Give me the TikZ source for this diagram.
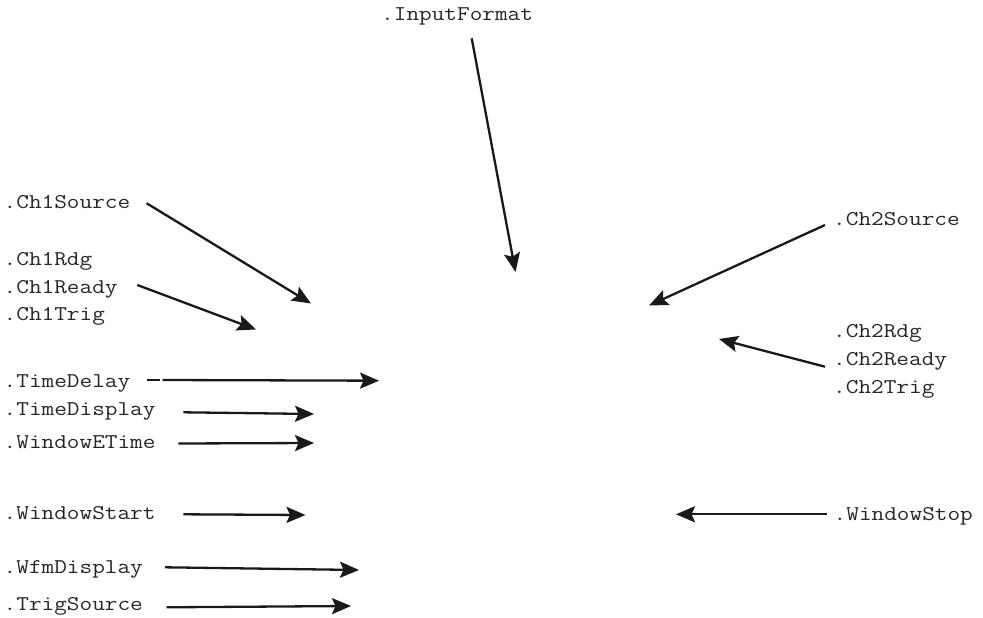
\documentclass[tikz,border=0pt]{standalone}
\usepackage{graphicx}
\usetikzlibrary{arrows.meta}
\newcommand{\lbltext}[1]{\scalebox{1.17}[1]{#1}}
\tikzset{
  lbl/.style={anchor=base west,inner sep=0pt,font=\ttfamily\fontsize{21}{25}\selectfont,text=black!85},
  arr/.style={line width=2.3pt,draw=black!90,-{Stealth[length=19pt,width=16pt,inset=3.5pt]}}
}
\begin{document}
\begin{tikzpicture}[x=1pt,y=-1pt]
\useasboundingbox (0,0) rectangle (983,618);
% labels
\node[lbl] (inputformat) at (381,20.5) {\lbltext{.InputFormat}};
\node[lbl] (ch1source) at (3.5,208) {\lbltext{.Ch1Source}};
\node[lbl] (ch1rdg) at (3.5,265) {\lbltext{.Ch1Rdg}};
\node[lbl] (ch1ready) at (3.5,293) {\lbltext{.Ch1Ready}};
\node[lbl] (ch1trig) at (3.5,320) {\lbltext{.Ch1Trig}};
\node[lbl] (timedelay) at (3.5,387) {\lbltext{.TimeDelay}};
\node[lbl] (timedisplay) at (3.5,415) {\lbltext{.TimeDisplay}};
\node[lbl] (windowetime) at (3.5,448) {\lbltext{.WindowETime}};
\node[lbl] (windowstart) at (3.5,519) {\lbltext{.WindowStart}};
\node[lbl] (wfmdisplay) at (3.5,573) {\lbltext{.WfmDisplay}};
\node[lbl] (trigsource) at (3.5,610) {\lbltext{.TrigSource}};
\node[lbl] (ch2source) at (833,225) {\lbltext{.Ch2Source}};
\node[lbl] (ch2rdg) at (833,337) {\lbltext{.Ch2Rdg}};
\node[lbl] (ch2ready) at (833,365) {\lbltext{.Ch2Ready}};
\node[lbl] (ch2trig) at (833,393) {\lbltext{.Ch2Trig}};
\node[lbl] (windowstop) at (833.5,520) {\lbltext{.WindowStop}};
% connector end points
\coordinate (sIF) at (471.7,38.3);   \coordinate (tIF) at (515.5,272);
\coordinate (s1S) at (146.7,203.3);  \coordinate (t1S) at (311,303.5);
\coordinate (s1R) at (137.3,285);    \coordinate (t1R) at (256,329.5);
\coordinate (sTDa) at (147,380);     \coordinate (sTDb) at (160,380);
\coordinate (sTD) at (162.5,380);    \coordinate (tTD) at (379,380.7);
\coordinate (sTP) at (183.3,412.3);  \coordinate (tTP) at (314,414);
\coordinate (sWE) at (178.3,443.5);  \coordinate (tWE) at (314,443);
\coordinate (sWS) at (183.3,514.3);  \coordinate (tWS) at (305.5,515);
\coordinate (sWF) at (165,567.3);    \coordinate (tWF) at (359,570);
\coordinate (sTS) at (166.7,607.3);  \coordinate (tTS) at (351,606);
\coordinate (s2S) at (825,225);      \coordinate (t2S) at (649,305.5);
\coordinate (s2R) at (825,366.7);    \coordinate (t2R) at (719,339);
\coordinate (sWT) at (826.7,514.3);  \coordinate (tWT) at (676,514.3);
% connectors
\draw[arr] (sIF) -- (tIF);
\draw[arr] (s1S) -- (t1S);
\draw[arr] (s1R) -- (t1R);
\draw[line width=2.3pt,draw=black!90] (sTDa) -- (sTDb);
\draw[arr] (sTD) -- (tTD);
\draw[arr] (sTP) -- (tTP);
\draw[arr] (sWE) -- (tWE);
\draw[arr] (sWS) -- (tWS);
\draw[arr] (sWF) -- (tWF);
\draw[arr] (sTS) -- (tTS);
\draw[arr] (s2S) -- (t2S);
\draw[arr] (s2R) -- (t2R);
\draw[arr] (sWT) -- (tWT);
\end{tikzpicture}
\end{document}
